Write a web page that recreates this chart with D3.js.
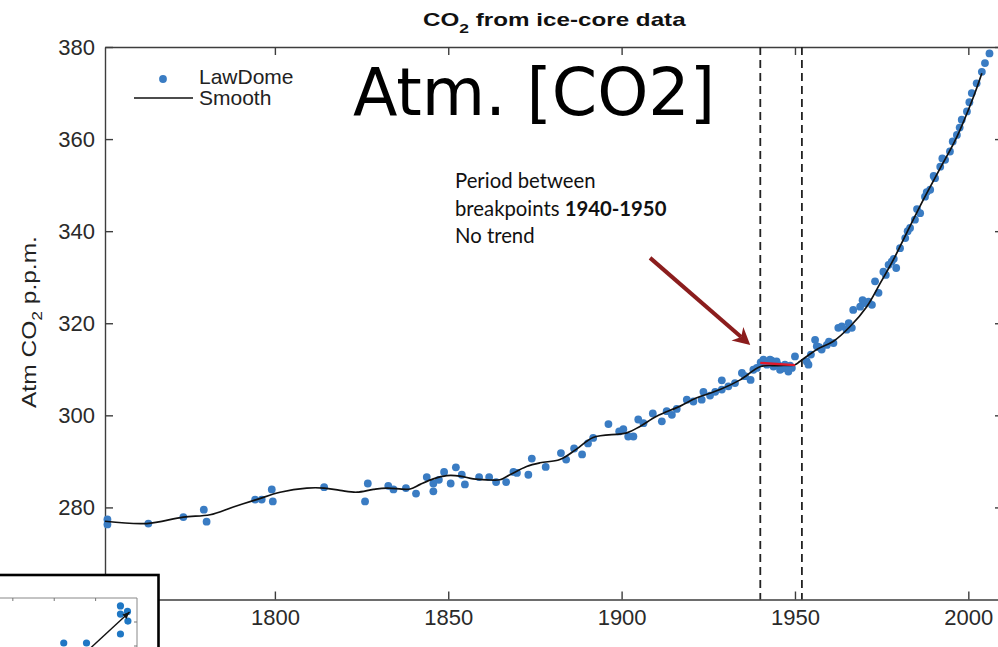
<!DOCTYPE html>
<html>
<head>
<meta charset="utf-8">
<script src="https://cdn.jsdelivr.net/npm/d3@7"></script>
<style>
  html, body { margin: 0; padding: 0; background: #fff; overflow: hidden; }
  svg { display: block; }
</style>
</head>
<body>
<svg id="chart" width="998" height="647"></svg>
<script>
// Law Dome ice-core CO2 samples (year, ppm)
const lawDomeYears = [
  1751.7, 1751.7, 1763.5, 1773.6, 1779.5, 1780.3, 1794.3, 1796.2, 1799.1, 1799.4,
  1814.2, 1826.0, 1826.8, 1832.7, 1834.2, 1837.8, 1840.7, 1843.8, 1845.7, 1845.7,
  1847.3, 1848.8, 1850.7, 1852.2, 1853.9, 1854.8, 1858.9, 1861.8, 1863.8, 1866.7,
  1868.8, 1869.8, 1873.1, 1874.1, 1878.1, 1882.5, 1884.0, 1886.3, 1888.6, 1890.3,
  1891.8, 1896.2, 1899.3, 1900.5, 1901.9, 1903.4, 1904.8, 1906.3, 1909.0, 1911.6,
  1913.0, 1914.5, 1915.9, 1918.8, 1920.7, 1923.1, 1923.6, 1925.5, 1927.0, 1928.9,
  1928.9, 1930.8, 1932.7, 1934.7, 1935.6, 1937.2, 1938.0, 1939.0, 1940.1, 1940.9,
  1941.3, 1941.9, 1942.8, 1943.3, 1943.8, 1944.7, 1945.2, 1945.7, 1946.5, 1947.1,
  1948.1, 1948.6, 1949.1, 1950.0, 1953.4, 1953.9, 1954.6, 1955.8, 1956.3, 1957.0,
  1957.7, 1959.2, 1959.8, 1961.1, 1962.5, 1963.5, 1964.9, 1965.5, 1966.4, 1966.8,
  1968.8, 1969.5, 1970.2, 1971.2, 1972.2, 1973.1, 1974.1, 1975.5, 1976.2, 1977.0,
  1977.9, 1978.5, 1979.2, 1980.3, 1981.8, 1982.5, 1983.2, 1984.6, 1985.2, 1986.1,
  1987.5, 1988.0, 1989.0, 1990.0, 1990.4, 1991.9, 1992.5, 1993.3, 1994.7, 1995.5,
  1996.7, 1997.5, 1998.1, 1999.6, 2000.3, 2001.0, 2002.4, 2003.9, 2004.8, 2006.1
];
const lawDomeCO2 = [
  277.4, 276.3, 276.5, 277.9, 279.5, 276.9, 281.7, 281.7, 283.9, 281.3,
  284.4, 281.3, 285.2, 284.7, 283.9, 284.2, 283.0, 286.6, 285.2, 283.5,
  286.0, 287.7, 285.2, 288.7, 287.1, 285.0, 286.6, 286.6, 285.5, 285.5,
  287.7, 287.5, 287.1, 290.6, 288.8, 291.8, 290.4, 292.8, 291.5, 293.9,
  295.1, 298.1, 296.5, 297.0, 295.4, 295.4, 299.1, 298.3, 300.4, 298.7,
  300.9, 300.1, 301.4, 303.4, 303.0, 303.4, 305.1, 304.3, 305.1, 307.6,
  305.6, 306.3, 307.0, 309.2, 308.5, 307.7, 309.9, 310.3, 311.5, 312.1,
  311.6, 311.0, 312.1, 311.9, 310.6, 311.7, 310.9, 309.9, 310.2, 311.0,
  309.5, 310.8, 310.3, 312.8, 311.7, 311.0, 313.2, 316.4, 315.0, 314.8,
  314.3, 315.3, 316.0, 315.7, 319.0, 319.3, 318.6, 320.0, 319.0, 322.9,
  323.6, 325.0, 324.4, 324.7, 324.0, 329.1, 326.6, 331.2, 330.5, 332.7,
  333.4, 334.0, 332.0, 336.3, 338.5, 340.0, 340.7, 342.5, 344.8, 343.9,
  347.5, 348.5, 349.0, 352.0, 351.5, 354.0, 355.8, 355.5, 357.3, 359.5,
  360.9, 362.5, 364.2, 366.0, 368.0, 370.0, 372.1, 374.6, 376.5, 378.6
];

// Smoothed curve through the samples
const smoothYears = [
  1751.0, 1763.0, 1773.6, 1781.3, 1788.0, 1794.7, 1801.5, 1809.2, 1814.2, 1818.8,
  1823.6, 1828.4, 1832.3, 1839.0, 1841.9, 1845.7, 1849.6, 1853.4, 1857.2, 1861.1,
  1864.9, 1867.8, 1872.6, 1876.5, 1882.2, 1886.9, 1891.8, 1901.5, 1905.3, 1910.1,
  1916.9, 1921.7, 1928.4, 1934.2, 1940.1, 1945.1, 1950.0, 1951.4, 1956.3, 1961.1,
  1965.9, 1970.7, 1974.6, 1978.4, 1982.2, 1987.0, 1991.9, 1996.7, 2001.5, 2003.9
];
const smoothCO2 = [
  277.0, 276.5, 277.9, 278.4, 280.1, 281.7, 283.3, 284.2, 284.2, 283.7,
  283.3, 283.9, 284.2, 284.0, 285.0, 286.2, 286.9, 286.8, 286.2, 286.0,
  286.0, 287.1, 288.9, 289.7, 290.4, 292.6, 295.2, 296.2, 297.6, 299.8,
  302.0, 303.8, 305.6, 307.7, 310.6, 310.8, 311.0, 311.7, 314.3, 316.1,
  319.3, 323.6, 328.7, 333.8, 339.6, 346.8, 353.7, 360.5, 369.2, 374.3
];

// Flat trend fitted between the breakpoints
const trendYears = [1940, 1950];
const trendCO2 = [311.4, 310.9];

// Dashed breakpoint markers
const breakpointYears = [1940, 1952];

const xTickYears = [1800, 1850, 1900, 1950, 2000];
const yTickValues = [280, 300, 320, 340, 360, 380];

// Small inset panel (bottom-left corner)
const insetXs = [3.60, 3.60, 3.77, 3.78, 3.60, 2.23, 2.78];
const insetYs = [2.67, 2.33, 2.44, 2.04, 1.50, 1.125, 1.125];
const insetArrowX = [2.88, 3.82];
const insetArrowY = [0.92, 2.42];
const insetXTicks = [1, 2, 3];
const insetYTicks = [1, 2];

// Annotation arrow (data coordinates: tail, tip)
const arrowYears = [1908.2, 1937.1];
const arrowCO2 = [334.2, 315.3];

const FONT = "'Liberation Sans', Arial, Helvetica, sans-serif";
const BLUE = "#3a7cc3";
const FRAME = "#3d3d3d";

const svg = d3.select("#chart");

const x = d3.scaleLinear().domain([1751, 2010]).range([105, 1003]);
const y = d3.scaleLinear().domain([260, 380]).range([599.5, 47]);

// Axes on all four sides, ticks pointing inward
function styleAxis(g) {
  g.select(".domain").attr("stroke", FRAME).attr("stroke-width", 1.4);
  g.selectAll(".tick line").attr("stroke", FRAME).attr("stroke-width", 1.4);
  g.selectAll(".tick text").attr("fill", "#2a2a2a").style("font-family", FONT).style("font-size", "22px");
}

svg.append("g")
  .attr("transform", "translate(0,599.5)")
  .call(d3.axisBottom(x).tickValues(xTickYears).tickFormat(d3.format("d")).tickSize(-8).tickSizeOuter(0).tickPadding(10))
  .call(styleAxis);

svg.append("g")
  .attr("transform", "translate(0,47)")
  .call(d3.axisTop(x).tickValues(xTickYears).tickFormat("").tickSize(-8).tickSizeOuter(0))
  .call(styleAxis);

svg.append("g")
  .attr("transform", "translate(105,0)")
  .call(d3.axisLeft(y).tickValues(yTickValues).tickSize(-8).tickSizeOuter(0).tickPadding(10))
  .call(styleAxis);

svg.append("g")
  .attr("transform", "translate(1003,0)")
  .call(d3.axisRight(y).tickValues(yTickValues).tickFormat("").tickSize(-8).tickSizeOuter(0))
  .call(styleAxis);

// Breakpoint markers
svg.append("g").selectAll("line")
  .data(breakpointYears)
  .join("line")
  .attr("x1", d => x(d)).attr("x2", d => x(d))
  .attr("y1", y(380)).attr("y2", y(260))
  .attr("stroke", "#222").attr("stroke-width", 1.8)
  .attr("stroke-dasharray", "8,5");

// Samples
const samples = lawDomeYears.map((yr, i) => ({ yr, v: lawDomeCO2[i] }));
svg.append("g").selectAll("circle")
  .data(samples)
  .join("circle")
  .attr("cx", d => x(d.yr))
  .attr("cy", d => y(d.v))
  .attr("r", 3.9)
  .attr("fill", BLUE);

// Smooth curve
const smooth = smoothYears.map((yr, i) => ({ yr, v: smoothCO2[i] }));
svg.append("path")
  .datum(smooth)
  .attr("fill", "none")
  .attr("stroke", "#111")
  .attr("stroke-width", 1.7)
  .attr("d", d3.line().x(d => x(d.yr)).y(d => y(d.v)).curve(d3.curveCatmullRom.alpha(0.5)));

// Trend between breakpoints
const trend = trendYears.map((yr, i) => ({ yr, v: trendCO2[i] }));
svg.append("path")
  .datum(trend)
  .attr("fill", "none")
  .attr("stroke", "#e0182d")
  .attr("stroke-width", 2.4)
  .attr("d", d3.line().x(d => x(d.yr)).y(d => y(d.v)));

// Title
const title = svg.append("text")
  .attr("y", 26)
  .attr("font-family", FONT)
  .attr("font-weight", "bold")
  .attr("font-size", 18)
  .attr("fill", "#111");
title.append("tspan").text("CO");
title.append("tspan").attr("font-size", 13).attr("dy", 7).text("2");
title.append("tspan").attr("dy", -7).text(" from ice-core data");
{
  const w = title.node().getBBox().width;
  const sx = 264 / w;
  title.attr("transform", `translate(423,0) scale(${sx},1)`).attr("x", 0);
}

// Y axis label
const ylab = svg.append("text")
  .attr("font-family", FONT)
  .attr("font-size", 21)
  .attr("fill", "#222");
ylab.append("tspan").text("Atm CO");
ylab.append("tspan").attr("font-size", 15).attr("dy", 6).text("2");
ylab.append("tspan").attr("dy", -6).text(" p.p.m.");
{
  const w = ylab.node().getBBox().width;
  ylab.attr("transform", `translate(36,408) rotate(-90) scale(${172 / w},1)`);
}

// Legend
const legend = svg.append("g").attr("font-family", FONT).attr("font-size", 21).attr("fill", "#222");
legend.append("circle").attr("cx", 163).attr("cy", 79).attr("r", 3.9).attr("fill", BLUE);
legend.append("text").attr("x", 199).attr("y", 84).text("LawDome");
legend.append("line").attr("x1", 134).attr("x2", 193).attr("y1", 98).attr("y2", 98)
  .attr("stroke", "#111").attr("stroke-width", 1.7);
legend.append("text").attr("x", 199).attr("y", 105).text("Smooth");

// Large heading
svg.append("text")
  .attr("x", 353).attr("y", 115)
  .attr("font-family", "'DejaVu Sans', Verdana, sans-serif")
  .attr("font-size", 65)
  .attr("fill", "#000")
  .text("Atm. [CO2]");

// Annotation text
const note = svg.append("g").attr("font-family", "Lato, 'Open Sans', sans-serif").attr("fill", "#111");
note.append("text").attr("x", 455).attr("y", 188).text("Period between");
const l2 = note.append("text").attr("x", 455).attr("y", 216);
l2.append("tspan").text("breakpoints ");
l2.append("tspan").attr("font-weight", "bold").text("1940-1950");
note.append("text").attr("x", 455).attr("y", 243).text("No trend");
note.attr("font-size", 20);
{
  const w = l2.node().getBBox().width;
  note.attr("font-size", 20 * 212 / w);
}

// Annotation arrow
{
  const x0 = x(arrowYears[0]), y0 = y(arrowCO2[0]);
  const x1 = x(arrowYears[1]), y1 = y(arrowCO2[1]);
  const dx = x1 - x0, dy = y1 - y0, len = Math.hypot(dx, dy);
  const ux = dx / len, uy = dy / len, px = -uy, py = ux;
  const head = 17, half = 9, notch = 12;
  svg.append("line")
    .attr("x1", x0).attr("y1", y0)
    .attr("x2", x1 - ux * notch).attr("y2", y1 - uy * notch)
    .attr("stroke", "#8b1d1d").attr("stroke-width", 4);
  const bx = x1 - ux * head, by = y1 - uy * head;
  svg.append("path")
    .attr("d", `M${x1},${y1} L${bx + px * half},${by + py * half} L${x1 - ux * notch},${y1 - uy * notch} L${bx - px * half},${by - py * half} Z`)
    .attr("fill", "#8b1d1d");
}

// Inset panel
const inset = svg.append("g");
inset.append("rect")
  .attr("x", -3).attr("y", 575).attr("width", 161.5).attr("height", 80)
  .attr("fill", "#fff").attr("stroke", "#000").attr("stroke-width", 2.6);
const ix = d3.scaleLinear().domain([0.69, 4]).range([0, 137]);
const iy = d3.scaleLinear().domain([0, 3]).range([670, 598]);
inset.append("path")
  .attr("d", `M${ix(0.69)},${iy(3)} H${ix(4)} V${iy(0)}`)
  .attr("fill", "none").attr("stroke", "#888").attr("stroke-width", 1);
inset.append("g").selectAll("line").data(insetXTicks).join("line")
  .attr("x1", d => ix(d)).attr("x2", d => ix(d))
  .attr("y1", iy(3)).attr("y2", iy(3) + 3)
  .attr("stroke", "#777").attr("stroke-width", 1);
inset.append("g").selectAll("line").data(insetYTicks).join("line")
  .attr("x1", ix(4)).attr("x2", ix(4) - 3)
  .attr("y1", d => iy(d)).attr("y2", d => iy(d))
  .attr("stroke", "#777").attr("stroke-width", 1);
inset.append("g").selectAll("circle").data(insetXs.map((v, i) => [v, insetYs[i]])).join("circle")
  .attr("cx", d => ix(d[0])).attr("cy", d => iy(d[1]))
  .attr("r", 3.6).attr("fill", "#1f77c4");
{
  const ax0 = ix(insetArrowX[0]), ay0 = iy(insetArrowY[0]);
  const ax1 = ix(insetArrowX[1]), ay1 = iy(insetArrowY[1]);
  const dx = ax1 - ax0, dy = ay1 - ay0, len = Math.hypot(dx, dy);
  const ux = dx / len, uy = dy / len, px = -uy, py = ux;
  inset.append("line").attr("x1", ax0).attr("y1", ay0).attr("x2", ax1).attr("y2", ay1)
    .attr("stroke", "#111").attr("stroke-width", 1.4);
  const bx = ax1 - ux * 7, by = ay1 - uy * 7;
  inset.append("path")
    .attr("d", `M${ax1},${ay1} L${bx + px * 3},${by + py * 3} L${bx - px * 3},${by - py * 3} Z`)
    .attr("fill", "#111");
}
</script>
</body>
</html>
